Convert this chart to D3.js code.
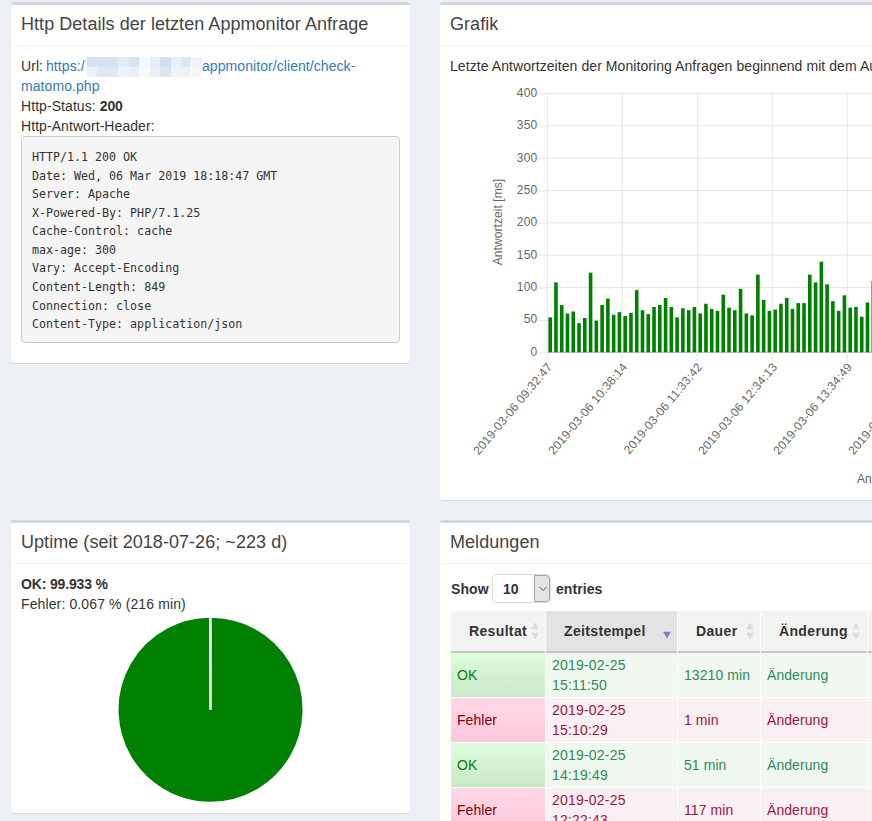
<!DOCTYPE html>
<html>
<head>
<meta charset="utf-8">
<title>Appmonitor</title>
<script src="https://cdn.jsdelivr.net/npm/d3@7"></script>
<style>
html, body { margin: 0; padding: 0; }
body { width: 872px; height: 821px; overflow: hidden; position: relative; background: #ecf0f5;
       font-family: "Liberation Sans", Arial, sans-serif; font-size: 14px; line-height: 20px; color: #333; letter-spacing: 0.07px; }
div { position: absolute; white-space: nowrap; }
.box { background: #fff; border-top: 3px solid #d2d6de; border-radius: 3px; box-shadow: 0 1px 1px rgba(0,0,0,.1); box-sizing: border-box; }
.box-title { font-size: 18px; color: #444; letter-spacing: 0.05px; }
.box-rule { height: 1px; background: #f4f4f4; }
.link { color: #337ab7; }
b { letter-spacing: -0.1px; }
pre { position: absolute; margin: 0; box-sizing: border-box; background: #f5f5f5; border: 1px solid #ccc; border-radius: 4px;
      font-family: "DejaVu Sans Mono", monospace; font-size: 11.65px; line-height: 18.57px; padding: 11px 10px; color: #333; letter-spacing: 0; }
svg { position: absolute; left: 0; top: 0; overflow: hidden; z-index: 5; }
svg text { font-family: "Liberation Sans", Arial, sans-serif; }
</style>
</head>
<body>
<script>
// response times in ms
const responseTimes = [54, 108, 73, 60, 63, 45, 53, 123, 49, 73, 83, 58, 62, 56, 61, 96, 65, 59, 70, 73,
    84, 70, 54, 68, 65, 70, 60, 75, 67, 64, 89, 69, 65, 98, 60, 57, 120, 81, 64, 66,
    75, 84, 67, 76, 76, 120, 108, 140, 105, 79, 64, 88, 69, 70, 55, 77, 110];
const yTicks = [0, 50, 100, 150, 200, 250, 300, 350, 400];
const xTickIndex = [0, 13, 26, 39, 52, 65];
// the last label is cut off in the picture, only "2019-" shows, its time is an estimate
const xTickLabels = ['2019-03-06 09:32:47', '2019-03-06 10:38:14', '2019-03-06 11:33:42',
    '2019-03-06 12:34:13', '2019-03-06 13:34:49', '2019-03-06 14:35:00'];

const uptimeLabels = ['OK', 'Fehler'];
const uptimeValues = [99.933, 0.067];

const headerLines = ['HTTP/1.1 200 OK', 'Date: Wed, 06 Mar 2019 18:18:47 GMT', 'Server: Apache',
    'X-Powered-By: PHP/7.1.25', 'Cache-Control: cache', 'max-age: 300', 'Vary: Accept-Encoding',
    'Content-Length: 849', 'Connection: close', 'Content-Type: application/json'];

const tableColumns = ['Resultat', 'Zeitstempel', 'Dauer', 'Änderung'];
const rowResults = ['OK', 'Fehler', 'OK', 'Fehler'];
const rowDates = ['2019-02-25', '2019-02-25', '2019-02-25', '2019-02-25'];
const rowTimes = ['15:11:50', '15:10:29', '14:19:49', '12:22:43'];
const rowDurations = ['13210 min', '1 min', '51 min', '117 min'];

const body = d3.select('body');

// white panel with title and rule below the title
function addBox(x, y, w, h, title) {
    const box = body.append('div').attr('class', 'box')
        .style('left', x + 'px').style('top', y + 'px').style('width', w + 'px').style('height', h + 'px');
    box.append('div').attr('class', 'box-title')
        .style('left', '10px').style('top', '9px').text(title);
    box.append('div').attr('class', 'box-rule')
        .style('left', 0).style('top', '40px').style('width', w + 'px');
    return box;
}

function addText(parent, x, y, text, cls) {
    return parent.append('div').attr('class', cls || null)
        .style('left', x + 'px').style('top', y + 'px').text(text);
}

// --- Http details ---
const httpBox = addBox(11, 2, 399, 361, 'Http Details der letzten Appmonitor Anfrage');
addText(httpBox, 10, 51, 'Url:');
addText(httpBox, 35, 51, 'https:/', 'link');
addText(httpBox, 191, 51, 'appmonitor/client/check-', 'link');
addText(httpBox, 10, 71, 'matomo.php', 'link');
const statusLine = addText(httpBox, 10, 91, 'Http-Status: ');
statusLine.append('b').text('200');
addText(httpBox, 10, 111, 'Http-Antwort-Header:');
httpBox.append('pre')
    .style('left', '10px').style('top', '131px').style('width', '379px').style('height', '207px')
    .text(headerLines.join('\n'));

// pixelated part of the url
const blurRows = [
    ['#d5e3f1', '#d5e3f1', '#d5e3f1', '#e3ecf6', '#d5e3f1', '#f5f8fc', '#e5eef7', '#cfdff0', '#e9f0f8', '#dde8f4', '#f0f4fa'],
    ['#eaf1f8', '#dde9f4', '#dde9f4', '#eef3f9', '#e8eff8', '#f8fafc', '#e8eff8', '#dbe4f1', '#eef3fa', '#eef3fa', '#f5f7fb']
];
blurRows.forEach((row, r) => {
    httpBox.selectAll(null).data(row).enter().append('div')
        .style('left', (_, i) => (76 + i * 10.45) + 'px')
        .style('top', 52 + r * 10 + 'px')
        .style('width', '10.45px').style('height', '10px')
        .style('background', d => d);
});

// --- Grafik ---
const chartBox = addBox(440, 2, 460, 498, 'Grafik');
addText(chartBox, 10, 51, 'Letzte Antwortzeiten der Monitoring Anfragen beginnend mit dem Au');

const svg = body.append('svg').attr('width', 872).attr('height', 821);

const y = d3.scaleLinear().domain([0, 400]).range([352.3, 93.3]);
// ticks sit on the left edge of each 13th bar slot
const x = d3.scaleLinear().domain([0, 13]).range([547.3, 622.3]);
const slot = x(1) - x(0);

const yAxis = svg.append('g').attr('transform', `translate(${x(0)},0)`)
    .call(d3.axisLeft(y).tickValues(yTicks).tickSize(10).tickPadding(0));
yAxis.select('.domain').remove();
yAxis.selectAll('.tick line').attr('stroke', '#e6e6e6').attr('x2', -9).attr('stroke-width', 1);
yAxis.selectAll('text').attr('x', -10).attr('dy', '0.25em').attr('fill', '#666').attr('font-size', 12)
    .style('letter-spacing', '0.15px');

svg.append('g').selectAll('line').data(yTicks).enter().append('line')
    .attr('x1', x(0)).attr('x2', 872)
    .attr('y1', d => y(d)).attr('y2', d => y(d))
    .attr('stroke', d => d === 0 ? '#c8c8c8' : '#e6e6e6')
    .attr('stroke-width', d => d === 0 ? 1.5 : 1);

svg.append('g').selectAll('line').data(xTickIndex).enter().append('line')
    .attr('x1', d => x(d)).attr('x2', d => x(d))
    .attr('y1', y(400)).attr('y2', y(0) + 10)
    .attr('stroke', '#e6e6e6');

svg.append('g').selectAll('rect').data(responseTimes).enter().append('rect')
    .attr('x', (d, i) => x(i) + (slot - 3.6) / 2)
    .attr('width', 3.6)
    .attr('y', d => y(d))
    .attr('height', d => y(0) - y(d))
    .attr('fill', '#008000');

const xAxis = svg.append('g').attr('transform', `translate(0,${y(0)})`)
    .call(d3.axisBottom(x).tickValues(xTickIndex).tickSize(0)
        .tickFormat((d, i) => xTickLabels[i]));
xAxis.select('.domain').remove();
xAxis.selectAll('text')
    .attr('fill', '#666').attr('font-size', 12)
    .attr('text-anchor', 'end').attr('dy', 0).attr('y', 0)
    .style('letter-spacing', '0.2px')
    .attr('transform', 'translate(5,15) rotate(-50)');

svg.append('text').attr('transform', 'translate(502,222) rotate(-90)')
    .attr('text-anchor', 'middle').attr('fill', '#666').attr('font-size', 12)
    .text('Antwortzeit [ms]');
svg.append('text').attr('x', 857).attr('y', 483).attr('fill', '#666').attr('font-size', 12).text('Ant');

// --- Uptime ---
const uptimeBox = addBox(11, 520, 399, 293, 'Uptime (seit 2018-07-26; ~223 d)');
const okLine = addText(uptimeBox, 10, 51, '');
okLine.append('b').style('letter-spacing', '-0.15px').text(`${uptimeLabels[0]}: ${uptimeValues[0].toFixed(3)} %`);
addText(uptimeBox, 10, 71, `${uptimeLabels[1]}: ${uptimeValues[1].toFixed(3)} % (216 min)`)
    .style('letter-spacing', '0.12px');

const pie = d3.pie().sort(null)(uptimeValues);
const arc = d3.arc().innerRadius(0).outerRadius(93);
svg.append('g').attr('transform', 'translate(210.5,709.7)')
    .selectAll('path').data(pie).enter().append('path')
    .attr('d', arc)
    .attr('fill', (d, i) => i === 0 ? '#008000' : '#ff0000')
    .attr('stroke', '#fff').attr('stroke-width', 2);

// --- Meldungen ---
const tableBox = addBox(440, 520, 460, 340, 'Meldungen');
const showLine = addText(tableBox, 11, 56, 'Show');
showLine.style('font-weight', 'bold');
addText(tableBox, 116, 56, 'entries').style('font-weight', 'bold');

const select = tableBox.append('div')
    .style('left', '52px').style('top', '51px').style('width', '59px').style('height', '29px')
    .style('box-sizing', 'border-box').style('background', '#fff')
    .style('border', '1px solid #ddd').style('border-radius', '4px');
addText(select, 10, 4, '10').style('font-weight', 'bold');
select.append('div')
    .style('right', '0').style('top', '0').style('width', '16px').style('height', '27px')
    .style('box-sizing', 'border-box').style('background', '#e3e3e3')
    .style('border', '1px solid #a5a5a5').style('border-radius', '0 4px 4px 0');

// column edges and row tops in page pixels
const colLeft = [451, 546, 678, 761, 868];
const colRight = [545, 677, 760, 867, 900];
const rowTop = [653, 698, 743, 788];
const rowHeight = 44;
const headerTextX = [469, 564, 696, 779];
const cellTextX = [457, 552, 684, 767];

const page = body.append('div').style('left', 0).style('top', 0).style('width', '872px').style('height', '821px')
    .style('overflow', 'hidden');

colLeft.forEach((left, c) => {
    page.append('div')
        .style('left', left + 'px').style('top', '611px')
        .style('width', (colRight[c] - left) + 'px').style('height', '40px')
        .style('background', c === 1 ? '#e3e3e3' : '#f3f3f3')
        .style('border-bottom', '2px solid #c4c4c4');
});
tableColumns.forEach((name, c) => {
    addText(page, headerTextX[c], 621, name)
        .style('font-weight', 'bold').style('letter-spacing', '0.35px').style('color', '#333');
});

rowResults.forEach((result, r) => {
    const ok = result === 'OK';
    const cellColor = ok ? '#2e8b57' : '#a5123f';
    colLeft.forEach((left, c) => {
        page.append('div')
            .style('left', left + 'px').style('top', rowTop[r] + 'px')
            .style('width', (colRight[c] - left) + 'px').style('height', rowHeight + 'px')
            .style('background', c === 0
                ? (ok ? 'linear-gradient(#ddfddd,#c8e8c8)' : 'linear-gradient(#ffd8e6,#fcc8dc)')
                : (ok ? '#f0f8f0' : '#f8f0f2'));
    });
    addText(page, cellTextX[0], rowTop[r] + 12, result).style('color', ok ? '#008000' : '#880000');
    addText(page, cellTextX[1], rowTop[r] + 2, rowDates[r]).style('color', cellColor).style('letter-spacing', '0.2px');
    addText(page, cellTextX[1], rowTop[r] + 22, rowTimes[r]).style('color', cellColor).style('letter-spacing', '0.2px');
    addText(page, cellTextX[2], rowTop[r] + 12, rowDurations[r]).style('color', cellColor);
    addText(page, cellTextX[3], rowTop[r] + 12, tableColumns[3]).style('color', cellColor);
});

// sort markers in the table header and chevron of the select, on top of the panels
const overlay = body.append('svg').attr('width', 872).attr('height', 821);
const triangle = d3.symbol().type(d3.symbolTriangle).size(26);
[535, 750, 856].forEach(cx => {
    overlay.append('path').attr('d', triangle).attr('fill', '#dcdcdc')
        .attr('transform', `translate(${cx},627)`);
    overlay.append('path').attr('d', triangle).attr('fill', '#dcdcdc')
        .attr('transform', `translate(${cx},635) rotate(180)`);
});
overlay.append('path').attr('d', triangle).attr('fill', '#7b7bd0')
    .attr('transform', 'translate(667,634) rotate(180)');
overlay.append('path').attr('d', d3.line()([[539.5, 587], [543, 590.5], [546.5, 587]]))
    .attr('fill', 'none').attr('stroke', '#555');
</script>
</body>
</html>
